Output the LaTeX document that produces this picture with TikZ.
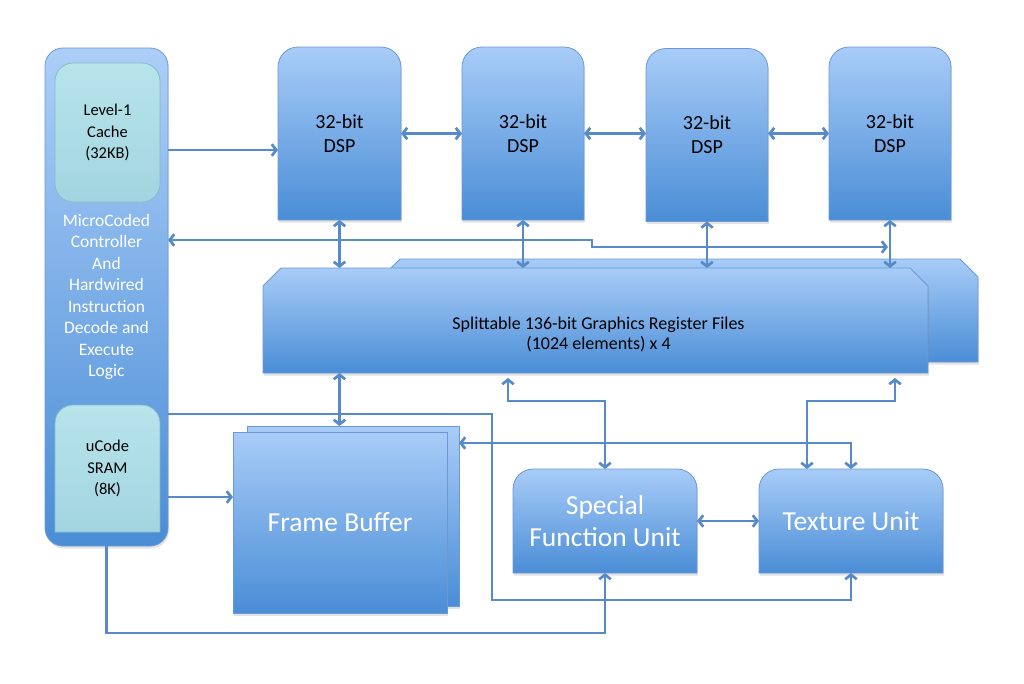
\documentclass[tikz,border=0pt]{standalone}
\usepackage{fontspec}
\setmainfont{Carlito}
\usetikzlibrary{arrows.meta,backgrounds,shadows,calc}
\definecolor{lnk}{RGB}{86,138,200}
\definecolor{topb}{RGB}{168,204,248}
\definecolor{botb}{RGB}{74,141,214}
\definecolor{edgeb}{RGB}{108,153,210}
\definecolor{cyt}{RGB}{184,228,235}
\definecolor{cyb}{RGB}{162,213,225}
\definecolor{cye}{RGB}{135,185,205}
\begin{document}
\begin{tikzpicture}[x=1pt,y=1pt,
  box/.style={rectangle, inner sep=0pt, outer sep=0pt, align=center},
  fillb/.style={top color=topb, bottom color=botb, draw=edgeb, line width=0.8pt,
    drop shadow={shadow xshift=1pt, shadow yshift=-2.5pt, opacity=0.22}},
  fillc/.style={top color=cyt, bottom color=cyb, draw=cye, line width=0.8pt},
  link/.style={draw=lnk, line width=2.7pt, >={Straight Barb[length=4.5pt,width=11.5pt]}},
  dsptext/.style={font=\fontsize{20}{24}\selectfont, text=black},
  smalltext/.style={font=\fontsize{16.5}{21.5}\selectfont, text=black},
  ctrltext/.style={font=\fontsize{17.5}{21.5}\selectfont, text=white},
  bigtext/.style={font=\fontsize{27.5}{32}\selectfont, text=white},
  regtext/.style={font=\fontsize{18}{19.5}\selectfont, text=black, align=center, inner sep=0pt}
]
\path[use as bounding box] (0,0) rectangle (1024,-683);

% nodes
\node[box, ctrltext, minimum width=123pt, minimum height=498pt] (ctrl) at (106.5,-297) {MicroCoded\\Controller\\And\\Hardwired\\Instruction\\Decode and\\Execute\\Logic};
\node[box, smalltext, minimum width=105pt, minimum height=139pt] (cache) at (107.5,-132.5) {Level-1\\Cache\\(32KB)};
\node[box, smalltext, minimum width=105pt, minimum height=127pt] (sram) at (107.5,-468.5) {uCode\\SRAM\\(8K)};

\node[box, dsptext, minimum width=123pt, minimum height=173pt] (d1) at (339.5,-133.5) {32-bit\\DSP};
\node[box, dsptext, minimum width=122pt, minimum height=173pt] (d2) at (523,-133.5) {32-bit\\DSP};
\node[box, dsptext, minimum width=122pt, minimum height=173pt] (d3) at (707,-135) {32-bit\\DSP};
\node[box, dsptext, minimum width=122pt, minimum height=173pt] (d4) at (890,-133.5) {32-bit\\DSP};

\node[box, minimum width=596pt, minimum height=103pt] (regB) at (680,-310.5) {};
\node[box, minimum width=665pt, minimum height=105pt] (regF) at (595.5,-320.5) {};
\node[regtext] (regtxt) at ($(regF.center)+(3,-14)$) {Splittable 136-bit Graphics Register Files\\(1024 elements) x 4};

\node[box, minimum width=212pt, minimum height=180pt] (fbB) at (353,-516) {};
\node[box, bigtext, minimum width=214pt, minimum height=181pt] (fbF) at (340,-522.5) {Frame Buffer};

\node[box, bigtext, minimum width=184pt, minimum height=104pt] (sfu) at (605,-521) {Special\\Function Unit};
\node[box, bigtext, minimum width=184pt, minimum height=104pt] (tex) at (851,-521) {Texture Unit};

% shapes
\begin{scope}[on background layer]
  \path[fillb, top color=topb!95!white, bottom color=botb] (ctrl.south west) [rounded corners=18pt] rectangle (ctrl.north east);
  \path[fillc, rounded corners=18pt] (cache.south west) rectangle (cache.north east);
  \path[fillc] (sram.south west) -- ([yshift=-18pt]sram.north west) arc[start angle=180,end angle=90,radius=18pt]
     -- ([xshift=-18pt]sram.north east) arc[start angle=90,end angle=0,radius=18pt] -- (sram.south east) -- cycle;
  \foreach \n in {d1,d2,d3,d4,sfu,tex}{
    \path[fillb] (\n.south west) -- ([yshift=-20pt]\n.north west) arc[start angle=180,end angle=90,radius=20pt]
      -- ([xshift=-20pt]\n.north east) arc[start angle=90,end angle=0,radius=20pt] -- (\n.south east) -- cycle;
  }
  \foreach \n in {regB,regF}{
    \path[fillb] (\n.south west) -- ([yshift=-18pt]\n.north west) -- ([xshift=18pt]\n.north west)
      -- ([xshift=-18pt]\n.north east) -- ([yshift=-18pt]\n.north east) -- (\n.south east) -- cycle;
  }
  \path[fillb] (fbB.south west) rectangle (fbB.north east);
  \path[fillb] (fbF.south west) rectangle (fbF.north east);
\end{scope}

% helper coordinates
\coordinate (yA) at (0,-150);
\coordinate (bus1) at (592,-240);
\coordinate (bus2) at (592,-247);
\coordinate (r1) at (492,-414);
\coordinate (r2) at (492,-600);
\coordinate (b1) at (0,-633);
\coordinate (s1) at (0,-497);
\coordinate (q1) at (508,-401);
\coordinate (t1) at (895,-401);
\coordinate (t2) at (807,-401);
\coordinate (u1) at (851,-443);

% connectors
\draw[link,->] (ctrl.east |- yA) -- (d1.west |- yA);
\draw[link,<->] (d1.east) -- (d2.west);
\draw[link,<->] (d2.east) -- (d3.west |- d2.east);
\draw[link,<->] (d3.east |- d4.west) -- (d4.west);
\draw[link,<->] (ctrl.east |- bus1) -- (bus1) -- (bus2) -- ([xshift=-2pt]d4.south |- bus2);
\foreach \n in {d1,d2,d3,d4}{
  \draw[link,<->] (\n.south) -- (\n.south |- regF.north);
}
\draw[link,<->] (d1.south |- regF.south) -- (d1.south |- fbB.north);
\draw[link,->] (ctrl.east |- r1) -- (r1) -- (r2) -- (tex.south |- r2) -- (tex.south);
\draw[link,->] (ctrl.south) -- (ctrl.south |- b1) -- (sfu.south |- b1) -- (sfu.south);
\draw[link,->] (ctrl.east |- s1) -- (fbF.west |- s1);
\draw[link,<->] ($(regF.south -| q1)+(0,-5)$) -- (q1) -- (sfu.north |- q1) -- (sfu.north);
\draw[link,<->] ($(regF.south -| t1)+(0,-5)$) -- (t1) -- (t2) -- (t2 |- tex.north);
\draw[link,<->] (tex.north) -- (tex.north |- u1) -- (fbB.east |- u1);
\draw[link,<->] (sfu.east) -- (tex.west);
\end{tikzpicture}
\end{document}
